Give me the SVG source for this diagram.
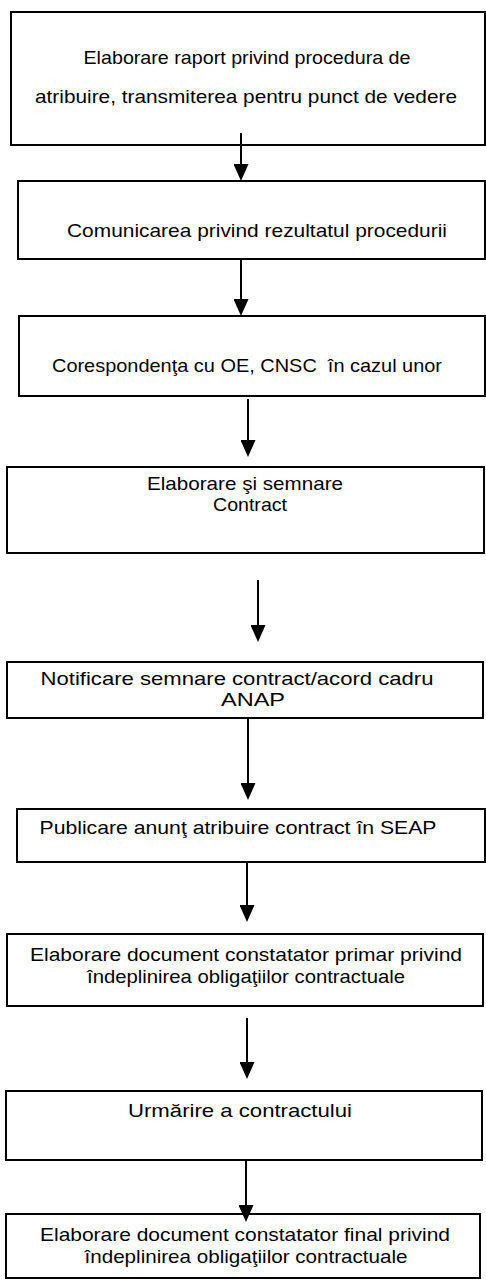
<svg xmlns="http://www.w3.org/2000/svg" width="486" height="1283" viewBox="0 0 486 1283">
  <style>
    .box { fill: #ffffff; stroke: #000000; stroke-width: 2; }
    .lbl { font-family: "Liberation Sans", Arial, Helvetica, sans-serif; font-size: 18.5px; fill: #000000; text-anchor: middle; }
    .conn { stroke: #000000; stroke-width: 2; fill: none; marker-end: url(#head); }
  </style>
  <defs>
    <marker id="head" viewBox="0 0 17 15" markerUnits="userSpaceOnUse" markerWidth="17" markerHeight="15" refX="9" refY="7.5" orient="auto">
      <path d="M0,0 L17,7.5 L0,15 z" fill="#000000"/>
    </marker>
  </defs>
  <rect x="0" y="0" width="486" height="1283" fill="#ffffff"/>

  <!-- process steps -->
  <g id="step-raport">
    <rect class="box" x="11" y="12" width="474" height="133"/>
    <text class="lbl" x="247" y="64" textLength="327" lengthAdjust="spacingAndGlyphs">Elaborare raport privind procedura de</text>
    <text class="lbl" x="246" y="103" textLength="422" lengthAdjust="spacingAndGlyphs">atribuire, transmiterea pentru punct de vedere</text>
  </g>
  <g id="step-comunicare">
    <rect class="box" x="18" y="181" width="467" height="78"/>
    <text class="lbl" x="257" y="237" textLength="380" lengthAdjust="spacingAndGlyphs">Comunicarea privind rezultatul procedurii</text>
  </g>
  <g id="step-corespondenta">
    <rect class="box" x="19" y="316" width="466" height="80"/>
    <text class="lbl" x="247" y="372" textLength="390" lengthAdjust="spacingAndGlyphs" xml:space="preserve">Corespondenţa cu OE, CNSC  în cazul unor</text>
  </g>
  <g id="step-contract">
    <rect class="box" x="7" y="467" width="477" height="86"/>
    <text class="lbl" x="245" y="490" textLength="196" lengthAdjust="spacingAndGlyphs">Elaborare şi semnare</text>
    <text class="lbl" x="250" y="511" textLength="74" lengthAdjust="spacingAndGlyphs">Contract</text>
  </g>
  <g id="step-notificare">
    <rect class="box" x="7" y="662" width="476" height="56"/>
    <text class="lbl" x="237" y="685" textLength="393" lengthAdjust="spacingAndGlyphs">Notificare semnare contract/acord cadru</text>
    <text class="lbl" x="253" y="706" textLength="64" lengthAdjust="spacingAndGlyphs">ANAP</text>
  </g>
  <g id="step-publicare">
    <rect class="box" x="17" y="809" width="468" height="53"/>
    <text class="lbl" x="238" y="834" textLength="397" lengthAdjust="spacingAndGlyphs">Publicare anunţ atribuire contract în SEAP</text>
  </g>
  <g id="step-constatator-primar">
    <rect class="box" x="7" y="934" width="476" height="72"/>
    <text class="lbl" x="246" y="961" textLength="432" lengthAdjust="spacingAndGlyphs">Elaborare document constatator primar privind</text>
    <text class="lbl" x="246" y="983" textLength="318" lengthAdjust="spacingAndGlyphs">îndeplinirea obligaţiilor contractuale</text>
  </g>
  <g id="step-urmarire">
    <rect class="box" x="6" y="1091" width="476" height="69"/>
    <text class="lbl" x="240" y="1117" textLength="224" lengthAdjust="spacingAndGlyphs">Urmărire a contractului</text>
  </g>
  <g id="step-constatator-final">
    <rect class="box" x="6" y="1214" width="474" height="64"/>
    <text class="lbl" x="245" y="1241" textLength="410" lengthAdjust="spacingAndGlyphs">Elaborare document constatator final privind</text>
    <text class="lbl" x="246" y="1263" textLength="323" lengthAdjust="spacingAndGlyphs">îndeplinirea obligaţiilor contractuale</text>
  </g>

  <!-- connectors -->
  <g id="connectors">
    <line class="conn" x1="241" y1="133" x2="241" y2="173"/>
    <line class="conn" x1="241" y1="259" x2="241" y2="308"/>
    <line class="conn" x1="248" y1="399" x2="248" y2="449"/>
    <line class="conn" x1="258" y1="580" x2="258" y2="634"/>
    <line class="conn" x1="248" y1="719" x2="248" y2="792"/>
    <line class="conn" x1="247" y1="862" x2="247" y2="914"/>
    <line class="conn" x1="247" y1="1018" x2="247" y2="1071"/>
    <line class="conn" x1="246" y1="1160" x2="246" y2="1214"/>
  </g>
</svg>
